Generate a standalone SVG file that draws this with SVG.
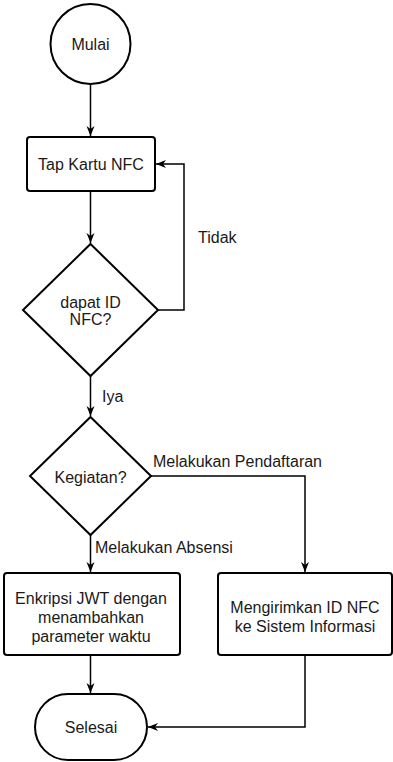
<svg xmlns="http://www.w3.org/2000/svg" width="393" height="762" viewBox="0 0 393 762">
  <style>
    .shape { fill: #ffffff; stroke: #000000; stroke-width: 2; }
    .edge { fill: none; stroke: #000000; stroke-width: 1.5; }
    .label { font-family: "Liberation Sans", Arial, sans-serif; font-size: 16px; fill: #1a1a1a; text-anchor: middle; }
    .elabel { font-family: "Liberation Sans", Arial, sans-serif; font-size: 16px; fill: #1a1a1a; }
  </style>
  <defs>
    <marker id="arrow" viewBox="0 0 10 10" refX="10" refY="5" markerWidth="10" markerHeight="10" markerUnits="userSpaceOnUse" orient="auto">
      <path d="M0,1 L10,5 L0,9 L3,5 z" fill="#000000"/>
    </marker>
  </defs>
  <rect width="393" height="762" fill="#ffffff"/>

  <g id="connectors">
    <path class="edge" d="M90.5,84 L90.5,136" marker-end="url(#arrow)"/>
    <path class="edge" d="M90.5,191 L90.5,243" marker-end="url(#arrow)"/>
    <path class="edge" d="M158,310 L184,310 L184,164 L156,164" marker-end="url(#arrow)"/>
    <path class="edge" d="M90.5,376 L90.5,416" marker-end="url(#arrow)"/>
    <path class="edge" d="M151,476 L305,476 L305,572" marker-end="url(#arrow)"/>
    <path class="edge" d="M90.5,535 L90.5,572" marker-end="url(#arrow)"/>
    <path class="edge" d="M90.5,655 L90.5,693" marker-end="url(#arrow)"/>
    <path class="edge" d="M305,655 L305,727 L148,727" marker-end="url(#arrow)"/>
    <text class="elabel" x="198" y="243">Tidak</text>
    <text class="elabel" x="102" y="402">Iya</text>
    <text class="elabel" x="153" y="467">Melakukan Pendaftaran</text>
    <text class="elabel" x="95" y="553">Melakukan Absensi</text>
  </g>

  <g id="start">
    <circle class="shape" cx="90.5" cy="44" r="40"/>
    <text class="label" x="90.5" y="50">Mulai</text>
  </g>

  <g id="tap-card">
    <rect class="shape" x="27" y="137" width="128" height="54" rx="3"/>
    <text class="label" x="91" y="170">Tap Kartu NFC</text>
  </g>

  <g id="check-id">
    <polygon class="shape" points="90.5,244 158,310 90.5,376 23,310"/>
    <text class="label" x="90.5" y="308">dapat ID</text>
    <text class="label" x="90.5" y="325">NFC?</text>
  </g>

  <g id="activity">
    <polygon class="shape" points="90.5,417 151,476 90.5,535 30,476"/>
    <text class="label" x="90.5" y="483">Kegiatan?</text>
  </g>

  <g id="encrypt-jwt">
    <rect class="shape" x="4" y="573" width="176" height="82" rx="3"/>
    <text class="label" x="91" y="604">Enkripsi JWT dengan</text>
    <text class="label" x="91" y="623">menambahkan</text>
    <text class="label" x="91" y="642">parameter waktu</text>
  </g>

  <g id="send-id">
    <rect class="shape" x="218" y="573" width="174" height="82" rx="3"/>
    <text class="label" x="305" y="613">Mengirimkan ID NFC</text>
    <text class="label" x="305" y="632">ke Sistem Informasi</text>
  </g>

  <g id="end">
    <rect class="shape" x="35" y="694" width="112" height="66" rx="33" ry="33"/>
    <text class="label" x="91" y="733">Selesai</text>
  </g>
</svg>
